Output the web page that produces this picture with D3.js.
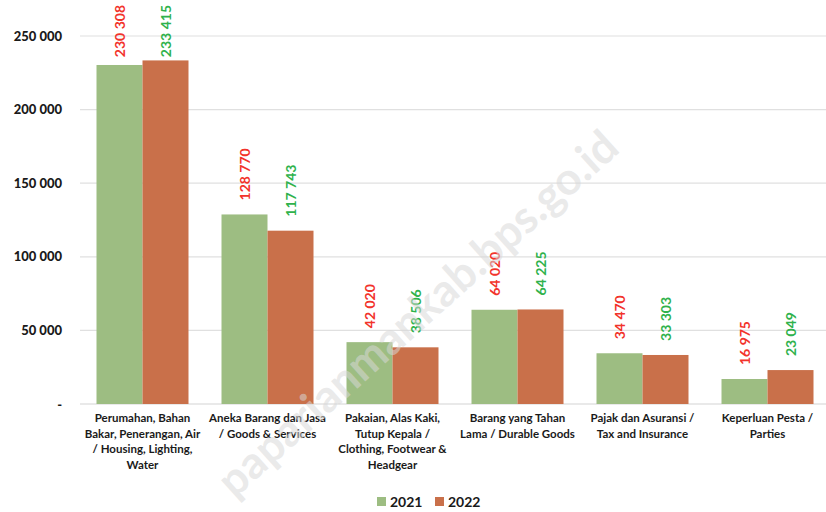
<!DOCTYPE html>
<html lang="en">
<head>
    <meta charset="UTF-8">
    <title>Pengeluaran per kelompok 2021-2022</title>
    <script src="https://d3js.org/d3.v7.min.js"></script>
    <style>
        body {
            margin: 0;
            background: #ffffff;
            font-family: Lato, "Open Sans", Arial, sans-serif;
        }
    </style>
</head>
<body>
    <svg width="826" height="512"></svg>

    <script>
        // Data
        const categories = [
            ["Perumahan, Bahan", "Bakar, Penerangan, Air", "/ Housing, Lighting,", "Water"],
            ["Aneka Barang dan Jasa", "/ Goods & Services"],
            ["Pakaian, Alas Kaki,", "Tutup Kepala /", "Clothing, Footwear &", "Headgear"],
            ["Barang yang Tahan", "Lama / Durable Goods"],
            ["Pajak dan Asuransi /", "Tax and Insurance"],
            ["Keperluan Pesta /", "Parties"]
        ];
        const years = ["2021", "2022"];
        const values2021 = [230308, 128770, 42020, 64020, 34470, 16975];
        const values2022 = [233415, 117743, 38506, 64225, 33303, 23049];
        const yTicks = [0, 50000, 100000, 150000, 200000, 250000];

        const barColors = { "2021": "#9dbd82", "2022": "#c9704a" };
        const labelColors = { "2021": "#f2332b", "2022": "#2fb24c" };

        const svg = d3.select("svg");
        const margin = { top: 36, right: 0, bottom: 108, left: 80 };
        const width = 826, height = 512;

        const fmt = v => v === 0 ? "-" : d3.format(",")(v).replace(/,/g, " ");

        const x = d3.scaleBand()
            .domain(d3.range(categories.length))
            .range([margin.left, margin.left + 750])
            .paddingInner(0.264)
            .paddingOuter(0.132);

        const xs = d3.scaleBand()
            .domain(years)
            .range([0, x.bandwidth()]);

        const y = d3.scaleLinear()
            .domain([0, 250000])
            .range([height - margin.bottom, margin.top]);

        // gridlines
        svg.append("g")
            .selectAll("line")
            .data(yTicks)
            .join("line")
            .attr("x1", margin.left)
            .attr("x2", width)
            .attr("y1", d => y(d))
            .attr("y2", d => y(d))
            .attr("stroke", d => d === 0 ? "#d4d4d4" : "#e0e0e0")
            .attr("stroke-width", 1.2);

        // y axis labels
        const yAxis = svg.append("g")
            .attr("transform", `translate(${margin.left - 18},0)`)
            .call(d3.axisLeft(y).tickValues(yTicks).tickFormat(fmt).tickSize(0).tickPadding(0));
        yAxis.select(".domain").remove();
        yAxis.selectAll("text")
            .attr("font-family", "Lato, 'Open Sans', sans-serif")
            .attr("font-size", 13)
            .attr("font-weight", 900)
            .attr("fill", "#1a1a1a");

        const rows = categories.map((c, i) => ({ i, vals: [values2021[i], values2022[i]] }));

        const groups = svg.append("g")
            .selectAll("g")
            .data(rows)
            .join("g")
            .attr("transform", d => `translate(${x(d.i)},0)`);

        groups.selectAll("rect")
            .data(d => years.map((yr, k) => ({ yr, v: d.vals[k] })))
            .join("rect")
            .attr("x", d => xs(d.yr))
            .attr("width", xs.bandwidth())
            .attr("y", d => y(d.v))
            .attr("height", d => y(0) - y(d.v))
            .attr("fill", d => barColors[d.yr]);

        // vertical value labels, kept inside the top of the picture
        groups.selectAll("text.val")
            .data(d => years.map((yr, k) => ({ yr, v: d.vals[k] })))
            .join("text")
            .attr("class", "val")
            .attr("text-anchor", "start")
            .attr("font-size", 14)
            .attr("font-weight", 700)
            .attr("fill", d => labelColors[d.yr])
            .text(d => fmt(d.v))
            .attr("transform", function (d) {
                const len = this.getComputedTextLength();
                const yEnd = Math.min(y(d.v) - 14, y(d.v) - 3, Math.max(y(d.v) - 14, 5 + len));
                return `translate(${xs(d.yr) + xs.bandwidth() / 2 + 5},${Math.max(yEnd, Math.min(y(d.v) - 3, 5 + len))}) rotate(-90)`;
            });

        // category labels
        svg.append("g")
            .selectAll("text")
            .data(categories)
            .join("text")
            .attr("x", (d, i) => x(i) + x.bandwidth() / 2)
            .attr("y", 422)
            .attr("text-anchor", "middle")
            .attr("font-size", 11.5)
            .attr("font-weight", 700)
            .attr("fill", "#1a1a1a")
            .selectAll("tspan")
            .data(d => d)
            .join("tspan")
            .attr("x", function () { return this.parentNode.getAttribute("x"); })
            .attr("dy", (d, j) => j === 0 ? 0 : 15.5)
            .text(d => d);

        // legend
        const legend = svg.append("g")
            .selectAll("g")
            .data(years)
            .join("g")
            .attr("transform", (d, i) => `translate(${377 + i * 58},497)`);
        legend.append("rect")
            .attr("width", 9)
            .attr("height", 9)
            .attr("fill", d => barColors[d]);
        legend.append("text")
            .attr("x", 13)
            .attr("y", 9.5)
            .attr("font-size", 14)
            .attr("font-weight", 700)
            .attr("fill", "#1a1a1a")
            .text(d => d);

        // watermark
        svg.append("text")
            .attr("transform", "translate(428,325) rotate(-42)")
            .attr("text-anchor", "middle")
            .attr("font-size", 45)
            .attr("font-weight", 700)
            .attr("fill", "#d8d8d8")
            .attr("fill-opacity", 0.55)
            .text("paparianmankab.bps.go.id");
    </script>
</body>
</html>
